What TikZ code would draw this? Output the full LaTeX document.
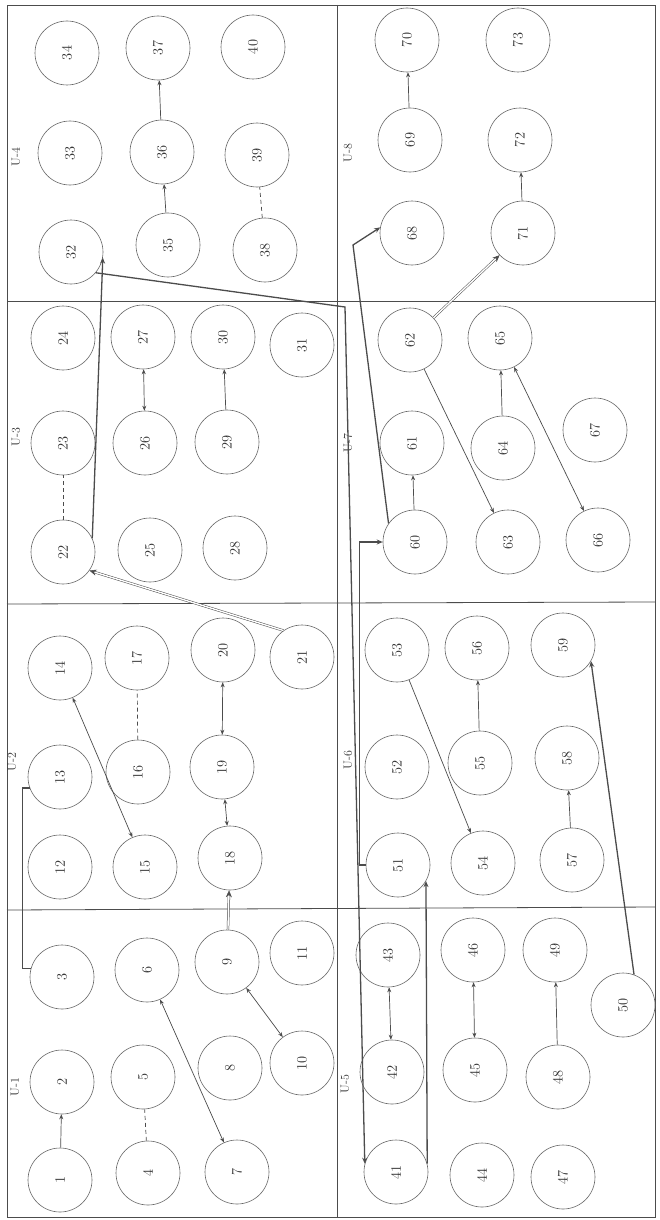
\documentclass[tikz,border=0pt]{standalone}
\usepackage{graphicx}
\usepackage{tikz}
\usetikzlibrary{arrows.meta,calc,positioning}

\tikzset{
  unit/.style={circle,draw=black!60,line width=0.6pt,minimum size=64pt,inner sep=0pt,font=\Large,text=black!80},
  unitlabel/.style={rotate=90,font=\large,text=black!80,inner sep=1pt},
  arr/.style={draw=black!70,line width=0.7pt,-{Stealth[length=5pt,width=4pt]}},
  both/.style={draw=black!70,line width=0.7pt,{Stealth[length=5pt,width=4pt]}-{Stealth[length=5pt,width=4pt]}},
  link/.style={draw=black!70,line width=0.7pt,dash pattern=on 4pt off 3pt},
  heavy/.style={draw=black!70,line width=1.3pt,-{Stealth[length=6pt,width=5pt]}},
  route/.style={draw=black!70,line width=1.3pt},
  dbl/.style={draw=black!70,double,double distance=1.4pt,line width=0.5pt,-{Stealth[length=7pt,width=6pt]}}
}

\begin{document}
\begin{tikzpicture}[x=1pt,y=-1pt]
    \useasboundingbox (0,0) rectangle (659,1220);
    \fill[white] (0,0) rectangle (659,1220);

    % frame and cells
    \draw[black!70,line width=0.8pt] (7,5) rectangle (655,1217);
    \draw[black!70,line width=0.8pt] (337,5) -- (337,1217);
    \draw[black!70,line width=0.8pt] (7,301) -- (655,301);
    \draw[black!70,line width=0.8pt] (7,604) -- (655,602);
    \draw[black!70,line width=0.8pt] (7,910) -- (655,907);

    \node[unitlabel] (u4) at (16,157) {U-4};
    \node[unitlabel] (u3) at (16,437) {U-3};
    \node[unitlabel] (u2) at (12,762) {U-2};
    \node[unitlabel] (u1) at (15,1087) {U-1};
    \node[unitlabel] (u8) at (348,153) {U-8};
    \node[unitlabel] (u7) at (348,443) {U-7};
    \node[unitlabel] (u6) at (348,760) {U-6};
    \node[unitlabel] (u5) at (345,1084) {U-5};

    % units
    \foreach \n/\x/\y in {1/60/1180,2/62/1082,3/62/977,4/148/1173,5/143/1077,6/147/970,
        7/237/1172,8/230/1068,9/227/962,10/302/1063,11/302/953,
        12/60/867,13/60/777,14/60/668,15/145/867,16/138/772,17/137/658,
        18/230/858,19/222/767,20/223/650,21/302/657,
        22/63/552,23/63/443,24/63/338,25/150/550,26/145/443,27/143/337,
        28/235/548,29/227/442,30/223/337,31/302/345,
        32/71/252,33/70/153,34/67/53,35/168/245,36/162/152,37/158/48,
        38/265/250,39/257/155,40/253/47,
        41/396/1172,42/392/1072,43/388/955,44/482/1175,45/475/1070,46/473/950,
        47/563/1177,48/558/1077,49/555/950,50/623/1005,
        51/398/865,52/397/767,53/397/650,54/483/863,55/480/763,56/477/648,
        57/572/860,58/567/758,59/563/645,
        60/415/542,61/412/443,62/410/340,63/508/542,64/503/448,65/500/338,
        66/598/540,67/595/430,
        68/412/233,69/410/140,70/407/40,71/523/233,72/520/140,73/518/40}
        \node[unit] (c\n) at (\x,\y) {\rotatebox{90}{\n}};

    % U-1
    \draw[arr] (c1) -- (c2);
    \draw[link] (c4) -- (c5);
    \draw[both] (c6) -- (c7);
    \draw[both] (c9) -- (c10);
    \draw[dbl] (c9) -- (c18);
    \draw[route] (c3.165) -- ++(-8,0) |- (c13.200);

    % U-2
    \draw[both] (c14) -- (c15);
    \draw[link] (c16) -- (c17);
    \draw[both] (c18) -- (c19);
    \draw[both] (c19) -- (c20);
    \draw[dbl] (c21.125) -- (c22.-35);

    % U-3
    \draw[link] (c22) -- (c23);
    \draw[heavy] (c22.25) -- (c32.-10);
    \draw[both] (c26) -- (c27);
    \draw[arr] (c29) -- (c30);

    % U-4
    \draw[arr] (c35) -- (c36);
    \draw[arr] (c36) -- (c37);
    \draw[link] (c38) -- (c39);
    \draw[heavy] (c32.-40) -- (345,307) -- (c41.165);

    % U-5
    \draw[both] (c42) -- (c43);
    \draw[both] (c45) -- (c46);
    \draw[arr] (c48) -- (c49);
    \draw[heavy] (c41.15) -- (c51.-30);
    \draw[heavy] (c50.70) -- (c59.-30);

    % U-6
    \draw[arr] (c53) -- (c54);
    \draw[arr] (c55) -- (c56);
    \draw[arr] (c57) -- (c58);
    \draw[heavy] (c51.west) -- ++(-6,0) |- (c60.west);

    % U-7
    \draw[arr] (c60) -- (c61);
    \draw[arr] (c62) -- (c63);
    \draw[arr] (c64) -- (c65);
    \draw[both] (c65) -- (c66);
    \draw[dbl] (c62) -- (c71);
    \draw[heavy] (c60.145) -- (353,245) -- (c68.170);

    % U-8
    \draw[arr] (c69) -- (c70);
    \draw[arr] (c71) -- (c72);
\end{tikzpicture}
\end{document}
